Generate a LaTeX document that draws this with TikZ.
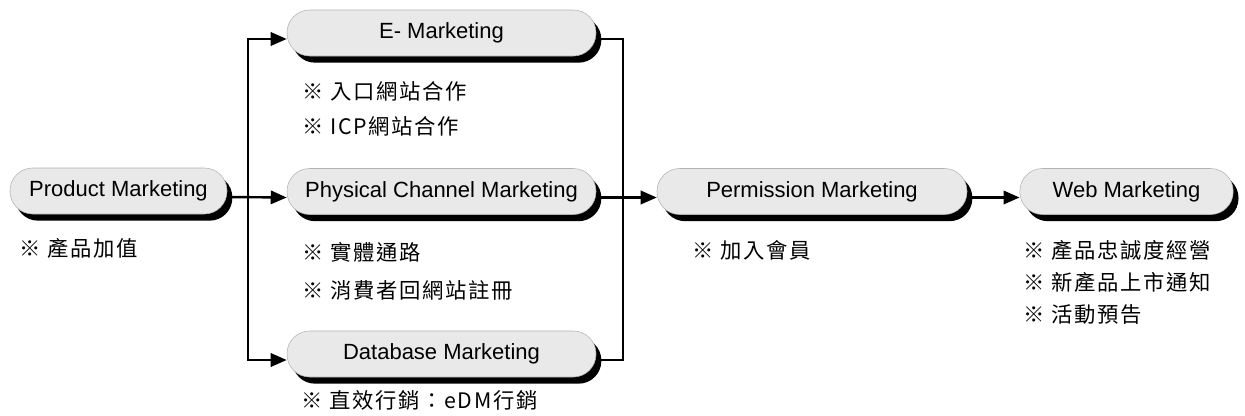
\documentclass[tikz,border=0pt]{standalone}
\usepackage{fontspec}
\setmainfont{Liberation Sans}
\newfontfamily\cjk[LetterSpace=8]{Noto Sans CJK TC}
\usetikzlibrary{arrows.meta,shadows}
\tikzset{
	mktbox/.style = {rectangle, rounded corners=17pt, draw=gray!60, thin, fill=gray!17,
		minimum height=34.5pt, inner sep=0pt, font=\fontsize{16.5}{18}\selectfont,
		drop shadow={shadow xshift=4pt, shadow yshift=-5pt, fill=black, opacity=1}},
	note/.style = {anchor=west, inner sep=0pt, font=\cjk\fontsize{16}{18}\selectfont},
	link/.style = {line width=1.8pt},
	linkarr/.style = {link, -{Triangle[length=12pt,width=10pt]}},
}
\begin{document}
\begin{tikzpicture}[x=0.75pt, y=-0.75pt]
	\useasboundingbox (0,0) rectangle (1245,415);
	%
	\node[mktbox, minimum width=162.75pt] (prod) at (118.5,191) {Product Marketing};
	\node[mktbox, minimum width=231.75pt] (emkt) at (441.5,33) {E- Marketing};
	\node[mktbox, minimum width=231.75pt] (phys) at (441.5,191.5) {Physical Channel Marketing};
	\node[mktbox, minimum width=231.75pt] (dbm) at (441.5,354) {Database Marketing};
	\node[mktbox, minimum width=232.5pt] (perm) at (812,191.5) {Permission Marketing};
	\node[mktbox, minimum width=160pt] (web) at (1126.5,191.5) {Web Marketing};
	%
	\node[note] (prodA) at (19,248) {※ 產品加值};
	\node[note] (emktA) at (302,91) {※ 入口網站合作};
	\node[note] (emktB) at (302,126) {※ ICP網站合作};
	\node[note] (physA) at (302,252) {※ 實體通路};
	\node[note] (physB) at (302,290) {※ 消費者回網站註冊};
	\node[note] (dbmA) at (301,400) {※ 直效行銷：eDM行銷};
	\node[note] (permA) at (692,250) {※ 加入會員};
	\node[note] (webA) at (1023,250) {※ 產品忠誠度經營};
	\node[note] (webB) at (1023,282) {※ 新產品上市通知};
	\node[note] (webC) at (1023,314) {※ 活動預告};
	%
	\coordinate (lsplit) at (248,197.5);
	\coordinate (rsplit) at (623,197.5);
	%
	\draw[linkarr] ([yshift=-4.5pt]prod.east) -- ([yshift=-4.5pt]phys.west);
	\draw[linkarr] (lsplit) |- ([yshift=-4.5pt]emkt.west);
	\draw[linkarr] (lsplit) |- ([yshift=-4.5pt]dbm.west);
	\draw[link] ([yshift=-4.5pt]emkt.east) -| (rsplit) |- ([yshift=-4.5pt]dbm.east);
	\draw[linkarr] ([yshift=-4.5pt]phys.east) -- ([yshift=-4.5pt]perm.west);
	\draw[linkarr] ([yshift=-4.5pt]perm.east) -- ([yshift=-4.5pt]web.west);
	%
\end{tikzpicture}
\end{document}
